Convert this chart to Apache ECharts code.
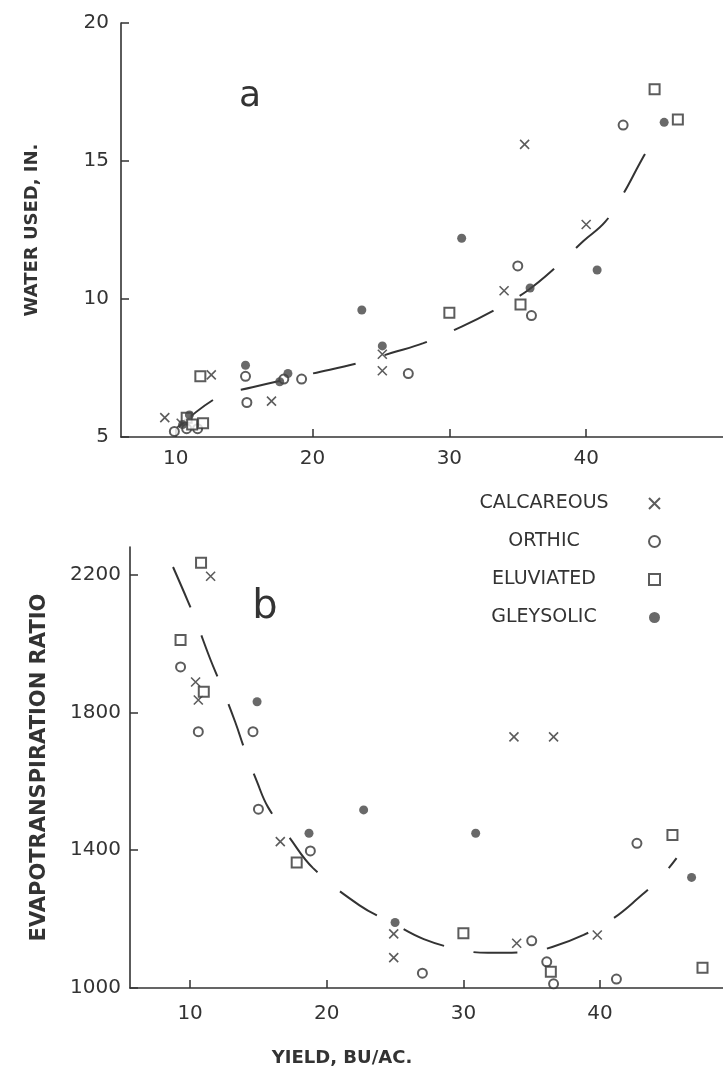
<!DOCTYPE html>
<html>
<head>
<meta charset="utf-8">
<script src="https://cdn.jsdelivr.net/npm/echarts@6/dist/echarts.min.js"></script>
<style>
html,body{margin:0;padding:0;background:#fff}
#main{width:723px;height:1078px}
</style>
</head>
<body>
<div id="main"></div>
<script>
var seriesNames = ['CALCAREOUS', 'ORTHIC', 'ELUVIATED', 'GLEYSOLIC'];
var yieldTicks = [10, 20, 30, 40];
var waterTicks = [5, 10, 15, 20];
var ratioTicks = [1000, 1400, 1800, 2200];

// a) water used (in.) against yield (bu/ac)
var waterCalc = [[9.2,5.7],[10.4,5.5],[12.6,7.25],[17.0,6.3],[25.1,8.0],[25.1,7.4],[34.0,10.3],[35.5,15.6],[40.0,12.7]];
var waterOrth = [[9.9,5.2],[10.8,5.3],[11.6,5.3],[15.1,7.2],[15.2,6.25],[17.9,7.1],[19.2,7.1],[27.0,7.3],[35.0,11.2],[36.0,9.4],[42.7,16.3]];
var waterElu = [[10.8,5.7],[11.2,5.45],[12.0,5.5],[11.8,7.2],[30.0,9.5],[35.2,9.8],[45.0,17.6],[46.7,16.5]];
var waterGley = [[10.5,5.45],[11.0,5.8],[15.1,7.6],[17.6,7.0],[18.2,7.3],[23.6,9.6],[25.1,8.3],[30.9,12.2],[35.9,10.4],[40.8,11.05],[45.7,16.4]];
var waterCurve = [[10.2,5.35],[13.1,6.45],[15.6,6.8],[20,7.3],[23.5,7.7],[25.8,8.05],[28.1,8.4],[30.9,9.0],[33.3,9.6],[35.7,10.3],[37.9,11.2],[39.8,12.1],[41.4,12.8],[42.7,13.8],[43.9,14.9],[44.8,15.7]];

// b) evapotranspiration ratio against yield
var ratioCalc = [[8.3,2290],[11.5,2195],[10.4,1888],[10.6,1836],[16.6,1425],[24.9,1157],[24.9,1088],[33.7,1729],[36.6,1729],[33.9,1130],[39.8,1154]];
var ratioOrth = [[9.3,1932],[10.6,1744],[14.6,1744],[15.0,1519],[18.8,1398],[27.0,1043],[35.0,1137],[36.1,1076],[36.6,1012],[41.2,1026],[42.7,1420]];
var ratioElu = [[10.8,2234],[9.3,2010],[11.0,1860],[17.8,1364],[30.0,1159],[36.4,1047],[45.3,1444],[47.5,1059]];
var ratioGley = [[14.9,1831],[18.7,1449],[22.7,1517],[30.9,1449],[25.0,1190],[46.7,1321]];
var ratioCurve = [[8.75,2222],[9.8,2126],[10.4,2068],[11.5,1952],[12.2,1885],[13.3,1772],[14.0,1691],[14.9,1598],[15.7,1525],[17.3,1435],[19.0,1348],[22.4,1240],[24.8,1189],[27.1,1142],[29.9,1110],[31.8,1102],[34.7,1104],[36.5,1119],[38.8,1154],[41.0,1203],[42.8,1261],[44.4,1319],[45.6,1377]];

var ink = '#333';
var font = 'DejaVu Sans';
var chart = echarts.init(document.getElementById('main'), null, {renderer: 'canvas'});

var symbols = {
	CALCAREOUS: {symbol: 'path://M0,0L10,10M10,0L0,10', size: 9, style: {color: 'transparent', borderColor: ink, borderWidth: 1.6}},
	ORTHIC: {symbol: 'emptyCircle', size: 9, style: {color: ink, borderWidth: 1.3}},
	ELUVIATED: {symbol: 'emptyRect', size: 10, style: {color: ink, borderWidth: 1.3}},
	GLEYSOLIC: {symbol: 'circle', size: 9, style: {color: '#444'}}
};

function scatter(name, gi, data) {
	var s = symbols[name];
	return {
		name: name, type: 'scatter', xAxisIndex: gi, yAxisIndex: gi,
		symbol: s.symbol, symbolSize: s.size, itemStyle: s.style,
		data: data, z: 3, silent: true
	};
}

function curve(gi, data) {
	return {
		type: 'line', xAxisIndex: gi, yAxisIndex: gi, data: data,
		smooth: 0.4, showSymbol: false, silent: true, z: 2,
		lineStyle: {color: ink, width: 2, type: [44, 30]}
	};
}

function axisCommon(ticks, labelMargin) {
	return {
		type: 'value',
		axisLine: {show: true, onZero: false, lineStyle: {color: ink, width: 1.6}},
		axisTick: {show: true, inside: true, length: 8, customValues: ticks, lineStyle: {color: ink, width: 1.5}},
		axisLabel: {
			customValues: ticks, margin: labelMargin, color: ink, fontSize: 20, fontFamily: font,
			formatter: function (v) { return String(v); }
		},
		splitLine: {show: false}
	};
}

var xTop = axisCommon(yieldTicks, 12);
xTop.gridIndex = 0; xTop.min = 6; xTop.max = 50;
var yTop = axisCommon(waterTicks, 12);
yTop.gridIndex = 0; yTop.min = 5; yTop.max = 20;
yTop.name = 'WATER USED, IN.';
yTop.nameLocation = 'middle';
yTop.nameGap = 80;
yTop.nameTextStyle = {color: ink, fontSize: 18, fontWeight: 'bold', fontFamily: font};

var xBot = axisCommon(yieldTicks, 16);
xBot.gridIndex = 1; xBot.min = 5.6; xBot.max = 49;
var yBot = axisCommon(ratioTicks, 9);
yBot.gridIndex = 1; yBot.min = 1000; yBot.max = 2280;
yBot.name = 'EVAPOTRANSPIRATION RATIO';
yBot.nameLocation = 'middle';
yBot.nameGap = 80;
yBot.nameTextStyle = {color: ink, fontSize: 21, fontWeight: 'bold', fontFamily: font};

var option = {
	backgroundColor: '#fff',
	animation: false,
	grid: [
		{left: 121, top: 23, right: 0, bottom: 641},
		{left: 130, top: 547, right: 0, bottom: 90}
	],
	xAxis: [xTop, xBot],
	yAxis: [yTop, yBot],
	legend: {
		orient: 'vertical', right: 62, top: 494, align: 'right',
		itemWidth: 11, itemHeight: 11, itemGap: 19, padding: 0,
		selectedMode: false,
		data: seriesNames,
		formatter: function (n) { return '{t|' + n + '}'; },
		textStyle: {rich: {t: {width: 200, align: 'center', fontSize: 19, lineHeight: 22, color: ink, fontFamily: font}}}
	},
	graphic: [
		{type: 'text', x: 250, y: 97, style: {text: 'a', font: '36px ' + font, fill: ink, align: 'center', verticalAlign: 'middle'}},
		{type: 'text', x: 265, y: 608, style: {text: 'b', font: '40px ' + font, fill: ink, align: 'center', verticalAlign: 'middle'}},
		{type: 'text', x: 342, y: 1058, style: {text: 'YIELD, BU/AC.', font: 'bold 18px ' + font, fill: ink, align: 'center', verticalAlign: 'middle'}}
	],
	series: [
		curve(0, waterCurve),
		scatter('CALCAREOUS', 0, waterCalc),
		scatter('ORTHIC', 0, waterOrth),
		scatter('ELUVIATED', 0, waterElu),
		scatter('GLEYSOLIC', 0, waterGley),
		curve(1, ratioCurve),
		scatter('CALCAREOUS', 1, ratioCalc),
		scatter('ORTHIC', 1, ratioOrth),
		scatter('ELUVIATED', 1, ratioElu),
		scatter('GLEYSOLIC', 1, ratioGley)
	]
};
chart.setOption(option);
</script>
</body>
</html>
